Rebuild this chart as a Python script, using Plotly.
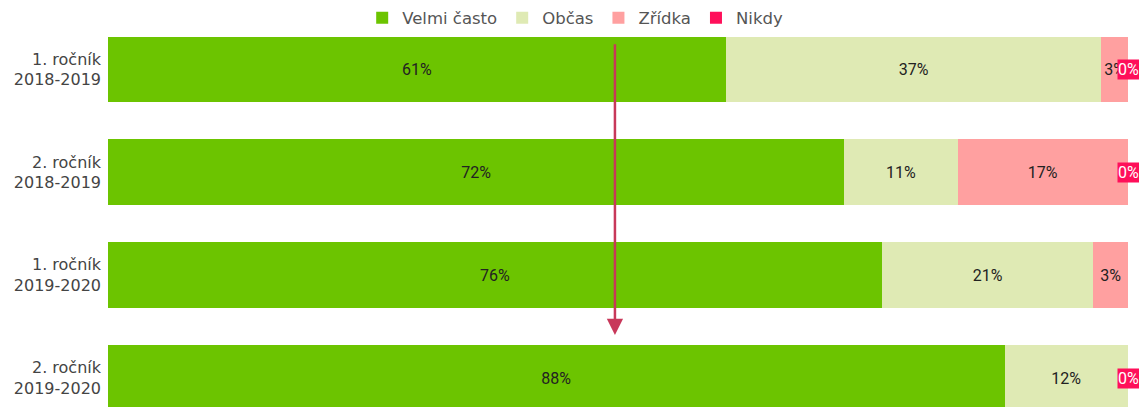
import plotly.graph_objects as go

categories = ["1. ročník<br>2018-2019", "2. ročník<br>2018-2019", "1. ročník<br>2019-2020", "2. ročník<br>2019-2020"]
series_names = ["Velmi často", "Občas", "Zřídka", "Nikdy"]
velmi_casto = [60.6, 72.2, 75.9, 87.9]
obcas = [36.8, 11.1, 20.7, 12.1]
zridka = [2.6, 16.7, 3.4, 0.0]
nikdy = [0.0, 0.0, 0.0, 0.0]
colors = ["#6cc400", "#dfeab4", "#ffa0a0", "#ff0f5a"]

series = [velmi_casto, obcas, zridka, nikdy]

fig = go.Figure()
for name, vals, col in zip(series_names, series, colors):
    show_text = name != "Nikdy"
    fig.add_trace(go.Bar(
        y=categories, x=vals, name=name, orientation="h",
        marker=dict(color=col, line=dict(width=0)),
        text=[(f"{v:.0f}%" if (v > 0 and show_text) else "") for v in vals],
        textposition="inside", insidetextanchor="middle",
        constraintext="none", textangle=0,
        textfont=dict(family="Roboto", size=16, color="#222222"),
        hoverinfo="skip",
    ))

# Nikdy labels at end of each bar
for cat, a, b, c, d in zip(categories, velmi_casto, obcas, zridka, nikdy):
    total = a + b + c + d
    fig.add_annotation(
        x=total, y=cat, xref="x", yref="y", text=f"{d:.0f}%", showarrow=False,
        font=dict(family="Roboto", size=16, color="white"),
        bgcolor=colors[3], borderpad=0, xanchor="center", yanchor="middle",
    )

# arrow
fig.add_annotation(
    x=49.7, y=2.58, ax=49.7, ay=-0.26, xref="x", yref="y", axref="x", ayref="y",
    text="", showarrow=True, arrowhead=2, arrowsize=1.3, arrowwidth=2.5,
    arrowcolor="#c8385a", standoff=0,
)

fig.update_layout(
    width=1139, height=407,
    margin=dict(l=108, r=11, t=18, b=0, autoexpand=False),
    barmode="stack", bargap=0.36,
    plot_bgcolor="white", paper_bgcolor="white",
    showlegend=True,
    legend=dict(orientation="h", xref="container", yref="container",
                x=0.505, y=0.956, xanchor="center", yanchor="middle",
                font=dict(family="DejaVu Sans", size=16.5, color="#555555"),
                traceorder="normal"),
    xaxis=dict(range=[0, 100], visible=False, fixedrange=True, automargin=False),
    yaxis=dict(range=[3.28, -0.5], autorange=False, type="category",
               showgrid=False, zeroline=False, showline=False, automargin=False,
               tickfont=dict(family="DejaVu Sans", size=16, color="#444444"),
               ticks="", ticklabelstandoff=6),
)

fig.write_html(
    "out.html",
    config={"displayModeBar": False},
    post_script="document.body.style.margin='0';document.body.style.overflow='hidden';",
)
